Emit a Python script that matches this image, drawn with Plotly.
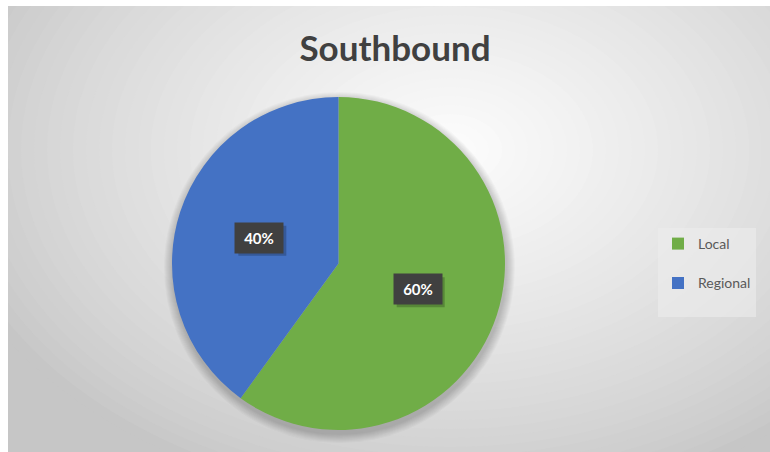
import math
import plotly.graph_objects as go

# ---- data ----
categories = ["Local", "Regional"]
values = [60, 40]
colors = ["#70AD47", "#4472C4"]
title_text = "Southbound"

W, H = 770, 452
# pie geometry in pixels (layout)
px_left, px_right, px_top, px_bottom = 172, 505, 97, 430
cx_px = (px_left + px_right) / 2
cy_px = (px_top + px_bottom) / 2
R_px = (px_right - px_left) / 2

def px2paper(x, y):
    return x / W, 1 - y / H

shapes = []
# chart area base
shapes.append(dict(type="rect", xref="paper", yref="paper", x0=8 / W, x1=1, y0=0, y1=1 - 6 / H,
                   fillcolor="#c6c6c6", line=dict(width=0), layer="below"))
# radial gradient via concentric ellipses
gcx, gcy = 450, 150
N = 40
for i in range(N):
    f = 1 - i / N  # 1 -> outer
    rx, ry = 520 * f, 360 * f
    c0, c1 = 198, 253
    c = int(round(c0 + (c1 - c0) * (1 - f) ** 0.8))
    x0, y0 = px2paper(gcx - rx, gcy + ry)
    x1, y1 = px2paper(gcx + rx, gcy - ry)
    shapes.append(dict(type="circle", xref="paper", yref="paper", x0=x0, x1=x1, y0=y0, y1=y1,
                       fillcolor=f"rgb({c},{c},{c})", line=dict(width=0), layer="below"))
# white page margins on top/left
shapes.append(dict(type="rect", xref="paper", yref="paper", x0=0, x1=8 / W, y0=0, y1=1,
                   fillcolor="white", line=dict(width=0), layer="below"))
shapes.append(dict(type="rect", xref="paper", yref="paper", x0=0, x1=1, y0=1 - 6 / H, y1=1,
                   fillcolor="white", line=dict(width=0), layer="below"))
# soft shadow of the pie
for k in range(9, 0, -1):
    r = R_px + k
    x0, y0 = px2paper(cx_px + 1 - r, cy_px + 4 + r)
    x1, y1 = px2paper(cx_px + 1 + r, cy_px + 4 - r)
    shapes.append(dict(type="circle", xref="paper", yref="paper", x0=x0, x1=x1, y0=y0, y1=y1,
                       fillcolor="rgba(0,0,0,0.022)", line=dict(width=0), layer="below"))

dx0, dy1 = px2paper(px_left, px_bottom)
dx1, dy0 = px2paper(px_right, px_top)

fig = go.Figure(go.Pie(
    labels=[c + "<br> " for c in categories],
    values=values,
    marker=dict(colors=colors, line=dict(width=0)),
    sort=False,
    direction="clockwise",
    rotation=0,
    textinfo="none",
    hoverinfo="skip",
    domain=dict(x=[dx0, dx1], y=[dy1, dy0]),
))

# percentage labels in dark boxes, placed at mid-angle of each slice
total = sum(values)
annotations = []
box_w, box_h = 48, 30
cum = 0
for v in values:
    mid = (cum + v / 2) / total * 360
    cum += v
    lx = cx_px + 0.5 * R_px * math.sin(math.radians(mid))
    ly = cy_px - 0.5 * R_px * math.cos(math.radians(mid))
    txt = f"{round(v / total * 100)}%"
    sx0, sy0 = px2paper(lx - box_w / 2 + 3, ly + box_h / 2 + 3)
    sx1, sy1 = px2paper(lx + box_w / 2 + 3, ly - box_h / 2 + 3)
    shapes.append(dict(type="rect", xref="paper", yref="paper", x0=sx0, x1=sx1, y0=sy0, y1=sy1,
                       fillcolor="rgba(0,0,0,0.22)", line=dict(width=0), layer="above"))
    ax, ay = px2paper(lx, ly)
    annotations.append(dict(x=ax, y=ay, xref="paper", yref="paper", text=f"<b>{txt}</b>",
                            showarrow=False, width=box_w, height=box_h, borderpad=0,
                            bgcolor="#404040", font=dict(color="white", size=15, family="Lato")))

fig.update_layout(
    width=W, height=H,
    margin=dict(l=0, r=0, t=0, b=0),
    paper_bgcolor="white",
    plot_bgcolor="rgba(0,0,0,0)",
    shapes=shapes,
    annotations=annotations,
    title=dict(text=f"<b>{title_text}</b>", x=395 / W, xanchor="center", y=1 - 49 / H,
               yanchor="middle", font=dict(family="Lato", size=35, color="#404040")),
    legend=dict(x=658 / W, y=1 - 228 / H, xanchor="left", yanchor="top",
                bgcolor="rgba(236,236,236,0.6)", valign="top", itemwidth=30,
                font=dict(family="Lato", size=14, color="#595959")),
    showlegend=True,
)

fig.write_html("out.html", config={"displayModeBar": False},
               post_script="document.body.style.margin='0';")
